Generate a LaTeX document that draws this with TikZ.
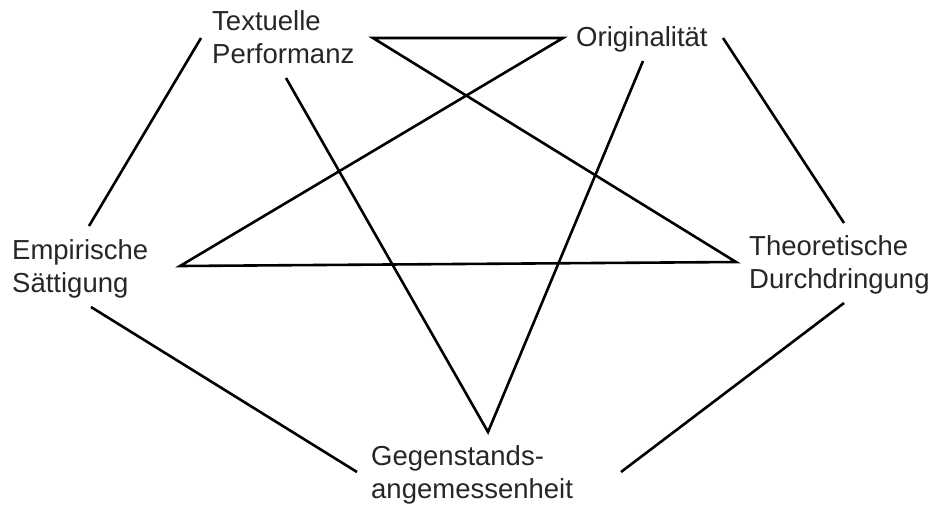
\documentclass[tikz,border=0pt]{standalone}
\usepackage{fontspec}
\setmainfont{Liberation Sans}
\begin{document}
\begin{tikzpicture}[x=1pt,y=-1pt,
  lbl/.style={anchor=north west,inner sep=0pt,align=left,text=black!85,font=\fontsize{27.5}{33}\selectfont},
  edge/.style={draw=black,line width=2.6pt,line join=miter,line cap=butt}]
\useasboundingbox (0,0) rectangle (936,504);
% labels
\node[lbl] (tp) at (212,10.3) {Textuelle\\Performanz};
\node[lbl,anchor=base west] (or) at (576,46) {Originalität};
\node[lbl] (es) at (12,239.3) {Empirische\\Sättigung};
\node[lbl] (td) at (749,235.3) {Theoretische\\Durchdringung};
\node[lbl] (ga) at (371,445) {Gegenstands-\\angemessenheit};
% connector end points
\coordinate (t1) at (373,38);
\coordinate (t2) at (286,78);
\coordinate (t3) at (201,38);
\coordinate (o1) at (563,38);
\coordinate (o2) at (643,61);
\coordinate (o3) at (723,38);
\coordinate (e1) at (180,266);
\coordinate (e2) at (89,226);
\coordinate (e3) at (91,307);
\coordinate (h1) at (736,262);
\coordinate (h2) at (844,223);
\coordinate (h3) at (844,303);
\coordinate (g1) at (488,432);
\coordinate (g2) at (357,472);
\coordinate (g3) at (621,472);
% star
\draw[edge] (t1) -- (o1) -- (e1) -- (h1) -- cycle;
\draw[edge] (t2) -- (g1) -- (o2);
% outer
\draw[edge] (t3) -- (e2);
\draw[edge] (o3) -- (h2);
\draw[edge] (e3) -- (g2);
\draw[edge] (g3) -- (h3);
\end{tikzpicture}
\end{document}
